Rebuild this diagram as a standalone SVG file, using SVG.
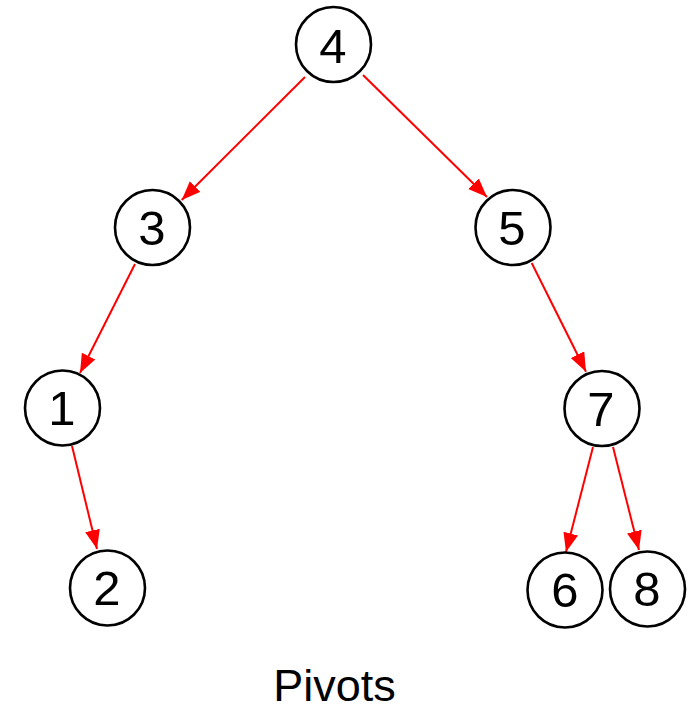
<svg xmlns="http://www.w3.org/2000/svg" width="695" height="711" viewBox="0 0 695 711">
<style>
.node circle{fill:#fff;stroke:#000;stroke-width:2.6}
.node text{font-family:"Liberation Sans",Arial,sans-serif;font-size:49px;fill:#000;text-anchor:middle}
.edge{stroke:#ff0000;stroke-width:2;fill:none;marker-end:url(#arr)}
.title{font-family:"Liberation Sans",Arial,sans-serif;font-size:45px;fill:#000;text-anchor:middle}
</style>
<defs>
<marker id="arr" markerUnits="userSpaceOnUse" markerWidth="22" markerHeight="18" refX="19" refY="7.5" orient="auto">
<path d="M0,0 L19,7.5 L0,15 z" fill="#ff0000"/>
</marker>
</defs>
<rect width="695" height="711" fill="#fff"/>
<g id="connectors">
<line class="edge" x1="305" y1="77" x2="181.7" y2="200"/>
<line class="edge" x1="363" y1="75" x2="487" y2="197"/>
<line class="edge" x1="135" y1="264" x2="80" y2="373"/>
<line class="edge" x1="531.7" y1="263" x2="586" y2="371.7"/>
<line class="edge" x1="72" y1="446" x2="97" y2="549"/>
<line class="edge" x1="593" y1="447" x2="566" y2="552"/>
<line class="edge" x1="613" y1="447" x2="639" y2="550"/>
</g>
<g id="node4" class="node"><circle cx="333.5" cy="44.5" r="37.5"/><text x="333" y="63">4</text></g>
<g id="node3" class="node"><circle cx="152.5" cy="227.5" r="37.5"/><text x="152" y="245">3</text></g>
<g id="node5" class="node"><circle cx="513" cy="227.5" r="37.5"/><text x="512" y="245">5</text></g>
<g id="node1" class="node"><circle cx="62.5" cy="408" r="37.5"/><text x="62" y="425">1</text></g>
<g id="node7" class="node"><circle cx="602" cy="408.5" r="37.5"/><text x="601" y="425.5">7</text></g>
<g id="node2" class="node"><circle cx="107.5" cy="588" r="37.5"/><text x="107" y="605">2</text></g>
<g id="node6" class="node"><circle cx="565" cy="590" r="37.5"/><text x="565" y="607">6</text></g>
<g id="node8" class="node"><circle cx="647.5" cy="589" r="37.5"/><text x="647" y="606">8</text></g>
<text class="title" x="334.5" y="701">Pivots</text>
</svg>
